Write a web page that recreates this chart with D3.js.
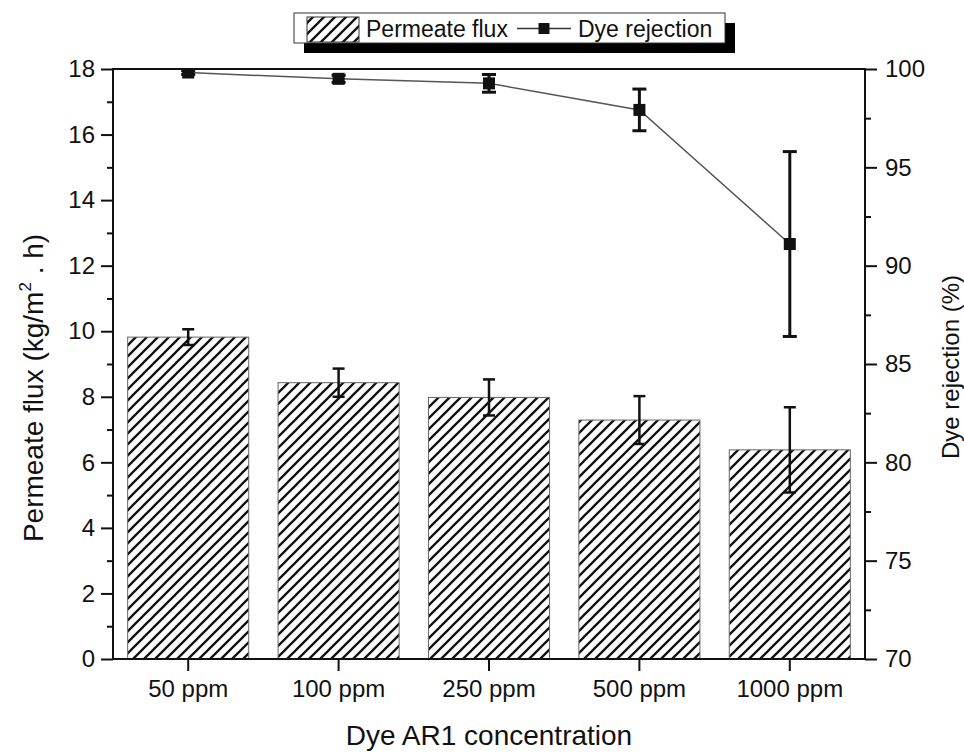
<!DOCTYPE html>
<html>
<head>
<meta charset="utf-8">
<script src="https://cdn.jsdelivr.net/npm/d3@7"></script>
<style>
  html, body { margin: 0; padding: 0; background: #fff; }
  svg { display: block; font-family: "Liberation Sans", Arial, sans-serif; }
</style>
</head>
<body>
<svg id="chart" width="964" height="753"></svg>
<script>
// ---- data ----
const categories = ["50 ppm", "100 ppm", "250 ppm", "500 ppm", "1000 ppm"];
const flux = [9.82, 8.43, 7.98, 7.29, 6.38];
const fluxErr = [0.24, 0.43, 0.55, 0.73, 1.3];
const rejection = [99.82, 99.5, 99.27, 97.92, 91.1];
const rejectionErr = [0.1, 0.18, 0.45, 1.06, 4.7];
const leftTicks = [0, 2, 4, 6, 8, 10, 12, 14, 16, 18];
const leftMinor = [1, 3, 5, 7, 9, 11, 13, 15, 17];
const rightTicks = [70, 75, 80, 85, 90, 95, 100];
const rightMinor = [72.5, 77.5, 82.5, 87.5, 92.5, 97.5];
const seriesNames = ["Permeate flux", "Dye rejection"];

// ---- layout ----
const L = 113, R = 865, T = 69, B = 659;
const svg = d3.select("#chart");

const x = d3.scaleBand().domain(categories).range([L, R]).paddingInner(0.195).paddingOuter(0.0975);
const yL = d3.scaleLinear().domain([0, 18]).range([B, T]);
const yR = d3.scaleLinear().domain([70, 100]).range([B, T]);

const defs = svg.append("defs");
const pat = defs.append("pattern").attr("id", "hatch").attr("patternUnits", "userSpaceOnUse")
  .attr("width", 11).attr("height", 11);
pat.append("rect").attr("width", 11).attr("height", 11).attr("fill", "#fff");
pat.append("path").attr("d", "M-1,1 L1,-1 M0,11 L11,0 M10,12 L12,10")
  .attr("stroke", "#111").attr("stroke-width", 2.3);
defs.append("clipPath").attr("id", "plotclip").append("rect")
  .attr("x", L).attr("y", T).attr("width", R - L).attr("height", B - T);

// ---- bars ----
const cx = d => x(d) + x.bandwidth() / 2;
svg.append("g").selectAll("rect").data(categories).join("rect")
  .attr("x", d => x(d)).attr("width", x.bandwidth())
  .attr("y", (d, i) => yL(flux[i])).attr("height", (d, i) => yL(0) - yL(flux[i]))
  .attr("fill", "url(#hatch)").attr("stroke", "#666").attr("stroke-width", 1);

// bar error bars
const eb = svg.append("g").attr("stroke", "#111").attr("stroke-width", 2.5);
categories.forEach((c, i) => {
  const xc = cx(c), y1 = yL(flux[i] + fluxErr[i]), y2 = yL(flux[i] - fluxErr[i]);
  eb.append("line").attr("x1", xc).attr("x2", xc).attr("y1", y1).attr("y2", y2);
  eb.append("line").attr("x1", xc - 6).attr("x2", xc + 6).attr("y1", y1).attr("y2", y1);
  eb.append("line").attr("x1", xc - 6).attr("x2", xc + 6).attr("y1", y2).attr("y2", y2);
});

// ---- rejection line ----
const lineG = svg.append("g").attr("clip-path", "url(#plotclip)");
lineG.append("path").datum(categories)
  .attr("d", d3.line().x(d => cx(d)).y((d, i) => yR(rejection[i])))
  .attr("fill", "none").attr("stroke", "#555").attr("stroke-width", 1.5);
categories.forEach((c, i) => {
  const xc = cx(c), y1 = yR(rejection[i] + rejectionErr[i]), y2 = yR(rejection[i] - rejectionErr[i]);
  const g = lineG.append("g").attr("stroke", "#111").attr("stroke-width", 3);
  g.append("line").attr("x1", xc).attr("x2", xc).attr("y1", y1).attr("y2", y2);
  g.append("line").attr("x1", xc - 7).attr("x2", xc + 7).attr("y1", y1).attr("y2", y1);
  g.append("line").attr("x1", xc - 7).attr("x2", xc + 7).attr("y1", y2).attr("y2", y2);
});
lineG.append("g").selectAll("rect").data(categories).join("rect")
  .attr("x", d => cx(d) - 6).attr("y", (d, i) => yR(rejection[i]) - 6)
  .attr("width", 12).attr("height", 12).attr("fill", "#111");

// ---- axes ----
function styleAxis(g, fs) {
  g.select(".domain").remove();
  g.selectAll(".tick line").attr("stroke", "#111").attr("stroke-width", 2);
  g.selectAll(".tick text").attr("fill", "#111").style("font-size", fs + "px");
}
// frame
svg.append("rect").attr("x", L).attr("y", T).attr("width", R - L).attr("height", B - T)
  .attr("fill", "none").attr("stroke", "#111").attr("stroke-width", 2);

svg.append("g").attr("transform", `translate(${L},0)`)
  .call(d3.axisLeft(yL).tickValues(leftTicks).tickSize(12).tickPadding(6).tickFormat(d3.format("d")))
  .call(g => styleAxis(g, 24));
svg.append("g").attr("transform", `translate(${L},0)`)
  .call(d3.axisLeft(yL).tickValues(leftMinor).tickSize(6).tickFormat(""))
  .call(g => styleAxis(g, 24));
svg.append("g").attr("transform", `translate(${R},0)`)
  .call(d3.axisRight(yR).tickValues(rightTicks).tickSize(12).tickPadding(8).tickFormat(d3.format("d")))
  .call(g => styleAxis(g, 24));
svg.append("g").attr("transform", `translate(${R},0)`)
  .call(d3.axisRight(yR).tickValues(rightMinor).tickSize(6).tickFormat(""))
  .call(g => styleAxis(g, 24));
svg.append("g").attr("transform", `translate(0,${B})`)
  .call(d3.axisBottom(x).tickSize(12).tickPadding(9))
  .call(g => styleAxis(g, 24));

// ---- titles ----
svg.append("text").attr("x", (L + R) / 2).attr("y", 745).attr("text-anchor", "middle")
  .style("font-size", "28px").attr("fill", "#111").text("Dye AR1 concentration");
const lt = svg.append("text").attr("transform", "translate(43,388) rotate(-90)")
  .attr("text-anchor", "middle").style("font-size", "28px").attr("fill", "#111");
lt.append("tspan").text("Permeate flux (kg/m");
lt.append("tspan").attr("dy", -12).style("font-size", "17px").text("2");
lt.append("tspan").attr("dy", 12).text(" . h)");
svg.append("text").attr("transform", "translate(959,367) rotate(-90)")
  .attr("text-anchor", "middle").style("font-size", "24px").attr("fill", "#111")
  .text("Dye rejection (%)");

// ---- legend ----
const lg = svg.append("g");
lg.append("rect").attr("x", 304).attr("y", 23).attr("width", 431).attr("height", 30).attr("fill", "#000");
lg.append("rect").attr("x", 294).attr("y", 13).attr("width", 431).attr("height", 30)
  .attr("fill", "#fff").attr("stroke", "#333").attr("stroke-width", 1);
lg.append("rect").attr("x", 307).attr("y", 17).attr("width", 52).attr("height", 25)
  .attr("fill", "url(#hatch)").attr("stroke", "#333").attr("stroke-width", 1);
lg.append("text").attr("x", 366).attr("y", 37).style("font-size", "23px").attr("fill", "#111").text(seriesNames[0]);
lg.append("line").attr("x1", 517).attr("x2", 571).attr("y1", 28.5).attr("y2", 28.5)
  .attr("stroke", "#333").attr("stroke-width", 1.5);
lg.append("rect").attr("x", 538.5).attr("y", 23).attr("width", 11).attr("height", 11).attr("fill", "#111");
lg.append("text").attr("x", 578).attr("y", 37).style("font-size", "23px").attr("fill", "#111").text(seriesNames[1]);
</script>
</body>
</html>
